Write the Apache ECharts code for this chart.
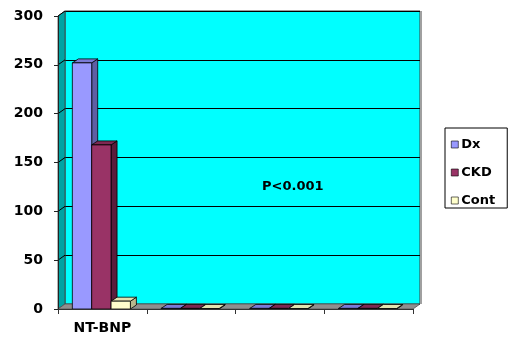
<!DOCTYPE html>
<html>
<head>
<meta charset="utf-8">
<script src="https://cdn.jsdelivr.net/npm/echarts@6/dist/echarts.min.js"></script>
<style>
  html, body { margin: 0; padding: 0; background: #fff; }
  #chart { width: 515px; height: 337px; }
</style>
</head>
<body>
<div id="chart"></div>
<script>
// Categories along the floor of the 3D plot
const categories = ['NT-BNP', '', '', ''];

// Series values per category
const dxValues = [252, 0.6, 0.6, 0.6];
const ckdValues = [168, 0.6, 0.6, 0.6];
const contValues = [8, 0.5, 0.5, 0.5];

// Value axis range
const yMin = 0;
const yMax = 300;
const yStep = 50;
const yTicks = [50, 100, 150, 200, 250, 300];

const seriesNames = ['Dx', 'CKD', 'Cont'];
const seriesValues = [dxValues, ckdValues, contValues];

// Face colours: front, top, side
const palette = [
  { front: '#9999ff', top: '#7b7bd6', side: '#5f5fa3' },
  { front: '#993366', top: '#7d2953', side: '#5a1e3c' },
  { front: '#ffffcc', top: '#e2e2b0', side: '#b8b88e' }
];

// Depth offset of the 3D look
const DX = 7, DY = 5;      // walls
const BDX = 6, BDY = 4;    // bars

function bar3d(seriesIdx) {
  const c = palette[seriesIdx];
  return function (params, api) {
    const idx = api.value(0);
    const v = api.value(1);
    const top = api.coord([idx, v]);
    const base = api.coord([idx, 0]);
    const band = api.size([1, 0])[0];
    const bw = band * 0.218;
    const x0 = top[0] - 1.5 * bw - 1 + seriesIdx * bw;
    const x1 = x0 + bw;
    const yt = top[1];
    const yb = base[1];
    const line = { stroke: '#000', lineWidth: 0.8 };
    return {
      type: 'group',
      children: [
        { type: 'polygon', shape: { points: [[x1, yt], [x1 + BDX, yt - BDY], [x1 + BDX, yb - BDY], [x1, yb]] },
          style: Object.assign({ fill: c.side }, line) },
        { type: 'polygon', shape: { points: [[x0, yt], [x0 + BDX, yt - BDY], [x1 + BDX, yt - BDY], [x1, yt]] },
          style: Object.assign({ fill: c.top }, line) },
        { type: 'rect', shape: { x: x0, y: yt, width: bw, height: Math.max(yb - yt, 0.5) },
          style: Object.assign({ fill: c.front }, line) }
      ]
    };
  };
}

// Left side wall, floor and the wall segments of the gridlines
function frame(params, api) {
  const cs = params.coordSys;
  const L = cs.x, R = cs.x + cs.width, T = cs.y, B = cs.y + cs.height;
  const children = [
    { type: 'polygon', shape: { points: [[L, T], [L + DX, T - DY], [L + DX, B - DY], [L, B]] },
      style: { fill: '#00a3a3', stroke: '#404040', lineWidth: 0.8 } },
    { type: 'polygon', shape: { points: [[L, B], [L + DX, B - DY], [R + DX, B - DY], [R, B]] },
      style: { fill: '#8f8f8f', stroke: '#505050', lineWidth: 0.8 } }
  ];
  yTicks.forEach(function (t) {
    const y = api.coord([0, t])[1];
    children.push({ type: 'line', shape: { x1: L, y1: y, x2: L + DX, y2: y - DY },
      style: { stroke: '#000', lineWidth: 1 } });
  });
  // light edge on the right of the back wall
  children.push({ type: 'line', shape: { x1: R + DX + 1, y1: T - DY, x2: R + DX + 1, y2: B - DY },
    style: { stroke: '#a0a0a0', lineWidth: 2 } });
  return { type: 'group', children: children };
}

const chart = echarts.init(document.getElementById('chart'), null, { renderer: 'canvas' });

const series = [
  { type: 'custom', name: '_frame', xAxisIndex: 0, yAxisIndex: 0, renderItem: frame,
    data: [[0, 0]], silent: true, z: 1 }
];
seriesNames.forEach(function (name, i) {
  series.push({
    type: 'custom',
    name: name,
    xAxisIndex: 0,
    yAxisIndex: 0,
    renderItem: bar3d(i),
    itemStyle: { color: palette[i].front, borderColor: '#000', borderWidth: 0.8 },
    data: seriesValues[i].map(function (v, k) { return [k, v]; }),
    z: 3
  });
});

chart.setOption({
  animation: false,
  backgroundColor: '#ffffff',
  textStyle: { fontFamily: 'DejaVu Sans' },
  grid: [
    { left: 58, right: 102, top: 16, bottom: 28, show: false },
    { left: 58 + DX, right: 102 - DX, top: 16 - DY, bottom: 28 + DY, show: true,
      backgroundColor: '#00ffff', borderColor: '#3a3a3a', borderWidth: 1, z: 0 }
  ],
  xAxis: [
    { type: 'category', gridIndex: 0, data: categories,
      axisLine: { show: true, lineStyle: { color: '#333', width: 1 } },
      axisTick: { show: true, alignWithLabel: false, length: 5, lineStyle: { color: '#333' } },
      axisLabel: { color: '#000', fontWeight: 'bold', fontSize: 14, margin: 12, fontFamily: 'DejaVu Sans' },
      splitLine: { show: false }, z: 4 },
    { type: 'category', gridIndex: 1, data: categories, show: false }
  ],
  yAxis: [
    { type: 'value', gridIndex: 0, min: yMin, max: yMax, interval: yStep,
      axisLine: { show: true, lineStyle: { color: '#222', width: 1 } },
      axisTick: { show: true, inside: false, length: 4, lineStyle: { color: '#222' } },
      axisLabel: { color: '#000', fontWeight: 'bold', fontSize: 14, margin: 15, fontFamily: 'DejaVu Sans' },
      splitLine: { show: false }, z: 4 },
    { type: 'value', gridIndex: 1, min: yMin, max: yMax, interval: yStep,
      axisLine: { show: false }, axisTick: { show: false }, axisLabel: { show: false },
      splitLine: { show: true, lineStyle: { color: '#000', width: 1 } } }
  ],
  legend: {
    data: seriesNames,
    orient: 'vertical',
    left: 445,
    top: 128,
    icon: 'rect',
    itemWidth: 7,
    itemHeight: 7,
    itemGap: 15,
    padding: [10, 12, 1, 6],
    borderColor: '#000',
    borderWidth: 1,
    itemStyle: { borderColor: '#000', borderWidth: 0.6 },
    textStyle: { color: '#000', fontWeight: 'bold', fontSize: 13, fontFamily: 'DejaVu Sans', padding: [0, 0, 0, -2] }
  },
  graphic: [
    { type: 'text', left: 262, top: 180,
      style: { text: 'P<0.001', fill: '#000', font: 'bold 13px "DejaVu Sans"' } }
  ],
  series: series
});
</script>
</body>
</html>
